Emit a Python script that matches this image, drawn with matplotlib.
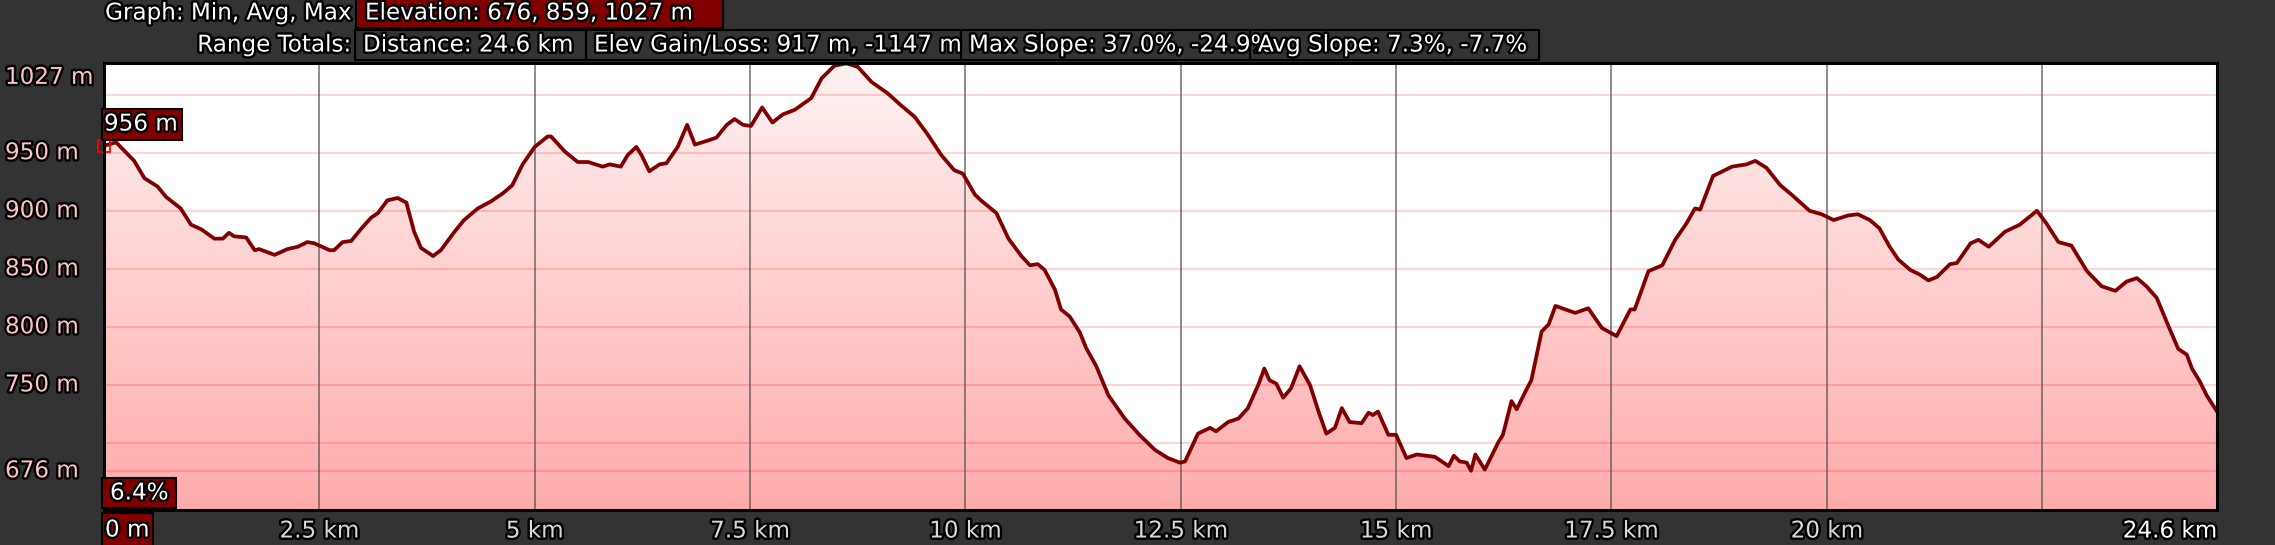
import numpy as np
import matplotlib
matplotlib.use("Agg")
import matplotlib.pyplot as plt
import matplotlib.patheffects as pe
from matplotlib.patches import Rectangle
from matplotlib.transforms import blended_transform_factory, ScaledTranslation

# elevation profile (km, m)
dist_km = [0.00, 0.14, 0.35, 0.47, 0.62, 0.72, 0.89, 1.01, 1.13, 1.28, 1.38, 1.45, 1.51, 1.65,
           1.75, 1.80, 1.98, 2.13, 2.25, 2.36, 2.44, 2.62, 2.67, 2.77, 2.87, 2.98, 3.10, 3.18,
           3.29, 3.41, 3.51, 3.60, 3.68, 3.82, 3.91, 4.07, 4.18, 4.34, 4.49, 4.63, 4.74, 4.86,
           5.00, 5.15, 5.19, 5.35, 5.50, 5.62, 5.79, 5.87, 6.00, 6.08, 6.18, 6.24, 6.33, 6.45,
           6.53, 6.66, 6.77, 6.86, 6.99, 7.11, 7.23, 7.32, 7.42, 7.51, 7.64, 7.76, 7.88, 8.02,
           8.21, 8.33, 8.48, 8.62, 8.75, 8.91, 9.10, 9.25, 9.41, 9.56, 9.72, 9.87, 9.97, 10.11,
           10.18, 10.36, 10.50, 10.65, 10.75, 10.84, 10.92, 11.04, 11.11, 11.21, 11.33, 11.40,
           11.52, 11.66, 11.85, 12.02, 12.20, 12.35, 12.49, 12.55, 12.70, 12.84, 12.91, 13.05,
           13.17, 13.28, 13.40, 13.47, 13.53, 13.61, 13.69, 13.78, 13.88, 14.00, 14.10, 14.19,
           14.29, 14.37, 14.46, 14.60, 14.68, 14.73, 14.79, 14.91, 15.00, 15.12, 15.24, 15.45,
           15.61, 15.67, 15.74, 15.82, 15.87, 15.92, 16.03, 16.19, 16.24, 16.34, 16.40, 16.50,
           16.57, 16.69, 16.77, 16.85, 17.08, 17.23, 17.39, 17.56, 17.72, 17.77, 17.93, 18.09,
           18.24, 18.37, 18.47, 18.53, 18.68, 18.90, 19.07, 19.17, 19.30, 19.46, 19.59, 19.80,
           19.94, 20.08, 20.25, 20.36, 20.50, 20.61, 20.73, 20.83, 20.97, 21.08, 21.18, 21.28,
           21.43, 21.51, 21.67, 21.76, 21.88, 22.07, 22.24, 22.44, 22.55, 22.69, 22.84, 23.02,
           23.19, 23.35, 23.48, 23.60, 23.71, 23.83, 23.97, 24.08, 24.18, 24.24, 24.33, 24.41,
           24.53]
elev_m = [956, 959, 943, 928, 921, 912, 902, 888, 884, 876, 876, 881, 878, 877,
          866, 867, 862, 867, 869, 873, 872, 866, 866, 873, 874, 884, 894, 898,
          909, 911, 907, 882, 868, 861, 866, 882, 892, 902, 908, 915, 922, 940,
          955, 964, 964, 951, 942, 942, 938, 940, 938, 948, 955, 948, 934, 940,
          941, 955, 974, 957, 960, 963, 974, 979, 974, 973, 989, 976, 983, 987,
          997, 1014, 1025, 1027, 1024, 1011, 1001, 991, 981, 966, 948, 935, 932, 914,
          909, 898, 876, 861, 853, 854, 849, 832, 815, 809, 795, 782,
          766, 741, 721, 707, 694, 687, 683, 684, 708, 713, 710, 718,
          721, 730, 750, 764, 754, 751, 739, 747, 766, 750, 727, 708,
          713, 730, 718, 717, 726, 724, 727, 707, 707, 687, 690, 688,
          680, 689, 684, 683, 676, 690, 677, 701, 707, 736, 729, 744,
          754, 796, 802, 818, 812, 816, 799, 792, 815, 815, 848, 853,
          875, 889, 902, 901, 930, 938, 940, 943, 937, 922, 914, 900,
          897, 892, 896, 897, 892, 885, 869, 858, 849, 845, 840, 843,
          854, 855, 872, 875, 869, 882, 888, 900, 889, 873, 870, 848,
          835, 831, 839, 842, 835, 825, 800, 781, 776, 764, 753, 741,
          727]

y_labels_m = [950, 900, 850, 800, 750]
h_grid_m = [676, 700, 750, 800, 850, 900, 950, 1000]
v_grid_km = [2.5, 5, 7.5, 10, 12.5, 15, 17.5, 20, 22.5]
x_label_km = [2.5, 5, 7.5, 10, 12.5, 15, 17.5, 20]
x_labels = ["2.5 km", "5 km", "7.5 km", "10 km", "12.5 km", "15 km", "17.5 km", "20 km"]
elev_min, elev_avg, elev_max = 676, 859, 1027
total_label = "24.6 km"
start_slope = "6.4%"
range_boxes = ["Distance: 24.6 km", "Elev Gain/Loss: 917 m, -1147 m",
               "Max Slope: 37.0%, -24.9%", "Avg Slope: 7.3%, -7.7%"]

W, H = 2275, 545
BG = "#333333"
DARK_RED = "#800000"
plt.rcParams["font.family"] = ["DejaVu Sans"]
FS = 16.6

fig = plt.figure(figsize=(W / 100, H / 100), dpi=100, facecolor=BG)
ax = fig.add_axes([104 / W, 1 - 510 / H, 2113 / W, 447 / H])
ax.set_facecolor("white")

y_lo, y_hi = 642.2, 1027.3
x_hi = dist_km[-1]

# gradient fill under the profile
top_c = np.array([1.0, 0.95, 0.95])
bot_c = np.array([1.0, 0.67, 0.67])
t = np.linspace(0, 1, 256).reshape(-1, 1, 1)
img = top_c * (1 - t) + bot_c * t
im = ax.imshow(img, extent=[0, x_hi, y_lo, y_hi], aspect="auto", origin="upper", zorder=1)
poly = ax.fill_between(dist_km, elev_m, y_lo, facecolor="none", edgecolor="none")
im.set_clip_path(poly.get_paths()[0], transform=ax.transData)

for v in h_grid_m:
    ax.axhline(v, color=(1, 0, 0, 0.2), lw=1.2, zorder=2)
for v in v_grid_km:
    ax.axvline(v, color=(0.31, 0.31, 0.31, 0.65), lw=1.4, zorder=2)

ax.plot(dist_km, elev_m, color=DARK_RED, lw=2.7, zorder=4, solid_joinstyle="round")
ax.plot(dist_km[0], elev_m[0], marker="s", ms=8.5, mfc="none", mec="red", mew=1.3,
        clip_on=False, zorder=5)

ax.set_xlim(0, x_hi)
ax.set_ylim(y_lo, y_hi)
ax.set_xticks([])
ax.set_yticks([])
for s in ax.spines.values():
    s.set_color("black")
    s.set_linewidth(2.2)
    s.set_zorder(6)

outline = [pe.withStroke(linewidth=3.5, foreground="black")]


def fx(x):
    return x / W


def fy(y):
    return 1 - y / H


def box(x0, y0, x1, y1, color):
    fig.add_artist(Rectangle((fx(x0), fy(y1)), (x1 - x0) / W, (y1 - y0) / H,
                             transform=fig.transFigure, facecolor=color,
                             edgecolor="black", lw=1.5, zorder=3))


def label(x, y, s, color="white", ha="left", size=FS):
    fig.text(fx(x), fy(y), s, color=color, ha=ha, va="center", fontsize=size,
             path_effects=outline, zorder=4)


# y axis labels
ytr = blended_transform_factory(fig.transFigure, ax.transData)
for v in y_labels_m + [elev_min]:
    fig.text(5 / W, v, f"{v} m", transform=ytr, color="#ffc4c4", ha="left", va="center",
             fontsize=FS, path_effects=outline)
fig.text(5 / W, elev_max, f"{elev_max} m",
         transform=ytr + ScaledTranslation(0, -0.14, fig.dpi_scale_trans),
         color="#ffc4c4", ha="left", va="center", fontsize=FS, path_effects=outline)

# x axis labels
xtr = blended_transform_factory(ax.transData, fig.transFigure)
for v, s in zip(x_label_km, x_labels):
    fig.text(v, fy(531), s, transform=xtr, color="#d8d8d8", ha="center", va="center",
             fontsize=FS, path_effects=outline)
fig.text(x_hi, fy(531), total_label, transform=xtr, color="white", ha="right",
         va="center", fontsize=FS, path_effects=outline)
box(102, 513, 153, 546, DARK_RED)
label(105, 530, "0 m")

# header rows
label(351, 13, "Graph: Min, Avg, Max", ha="right")
box(356, -2, 723, 28, DARK_RED)
label(365, 13, f"Elevation: {elev_min}, {elev_avg}, {elev_max} m")
label(351, 45, "Range Totals:", ha="right")
edges = [355, 586, 961, 1250, 1539]
for i, s in enumerate(range_boxes):
    box(edges[i], 30, edges[i + 1], 60, BG)
for i, s in enumerate(range_boxes):
    label(edges[i] + 8, 45, s)

# start point annotations
box(102, 109, 182, 140, DARK_RED)
label(104, 124, f"{elev_m[0]} m")
box(102, 478, 176, 508, DARK_RED)
label(110, 493, start_slope)

fig.savefig("out.png", dpi=100, facecolor=BG)
plt.close(fig)
